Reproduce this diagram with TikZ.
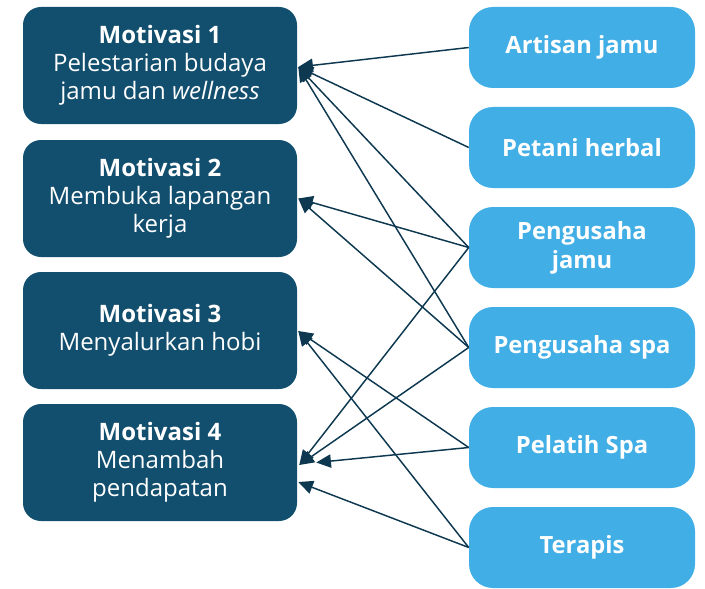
\documentclass[tikz,border=0pt]{standalone}
\usepackage{fontspec}
\setmainfont{Open Sans}
\usetikzlibrary{arrows.meta,calc}
\definecolor{darkbox}{HTML}{124E6D}
\definecolor{lightbox}{HTML}{42AEE6}
\definecolor{arrowc}{HTML}{0D3850}
\tikzset{
  leftbox/.style={fill=darkbox, rounded corners=13.5pt, minimum width=205.5pt, minimum height=87.75pt, text=white, align=center, inner sep=0pt, font=\fontsize{18}{21}\selectfont},
  rightbox/.style={fill=lightbox, rounded corners=18pt, minimum width=169.5pt, minimum height=60.75pt, text=white, align=center, inner sep=0pt, font=\bfseries\fontsize{17.8}{22}\selectfont},
  arr/.style={draw=arrowc, line width=1.1pt, -{Triangle[length=11pt,width=10pt]}}
}
\begin{document}
\begin{tikzpicture}[x=0.75pt,y=-0.75pt]
\useasboundingbox (0,0) rectangle (705,588);
\node[leftbox] (m1) at (160,65.5) {\textbf{Motivasi 1}\\Pelestarian budaya\\jamu dan \textit{wellness}};
\node[leftbox] (m2) at (160,198.5) {\textbf{Motivasi 2}\\Membuka lapangan\\kerja};
\node[leftbox] (m3) at (160,330.5) {\textbf{Motivasi 3}\\Menyalurkan hobi};
\node[leftbox] (m4) at (160,462.5) {\textbf{Motivasi 4}\\Menambah\\pendapatan};
\node[rightbox] (r1) at (582,47.5) {Artisan jamu};
\node[rightbox] (r2) at (582,147.5) {Petani herbal};
\node[rightbox] (r3) at (582,247.5) {Pengusaha\\jamu};
\node[rightbox] (r4) at (582,347.5) {Pengusaha spa};
\node[rightbox] (r5) at (582,447.5) {Pelatih Spa};
\node[rightbox] (r6) at (582,547.5) {Terapis};
\coordinate (t1) at ($(m1.east)+(1,1.5)$);
\coordinate (t2) at ($(m2.east)+(1,0)$);
\coordinate (t3) at ($(m3.east)+(1,0.5)$);
\coordinate (t4a) at ($(m4.east)+(2,2.5)$);
\coordinate (t4b) at ($(m4.east)+(19,0)$);
\coordinate (t4c) at ($(m4.east)+(1,19.5)$);
\draw[arr] (r1.west) -- (t1);
\draw[arr] (r2.west) -- (t1);
\draw[arr] (r3.west) -- (t1);
\draw[arr] (r4.west) -- (t1);
\draw[arr] (r3.west) -- (t2);
\draw[arr] (r4.west) -- (t2);
\draw[arr] (r5.west) -- (t3);
\draw[arr] (r6.west) -- (t3);
\draw[arr] (r3.west) -- (t4a);
\draw[arr] (r4.west) -- (t4a);
\draw[arr] (r5.west) -- (t4b);
\draw[arr] (r6.west) -- (t4c);
\end{tikzpicture}
\end{document}
